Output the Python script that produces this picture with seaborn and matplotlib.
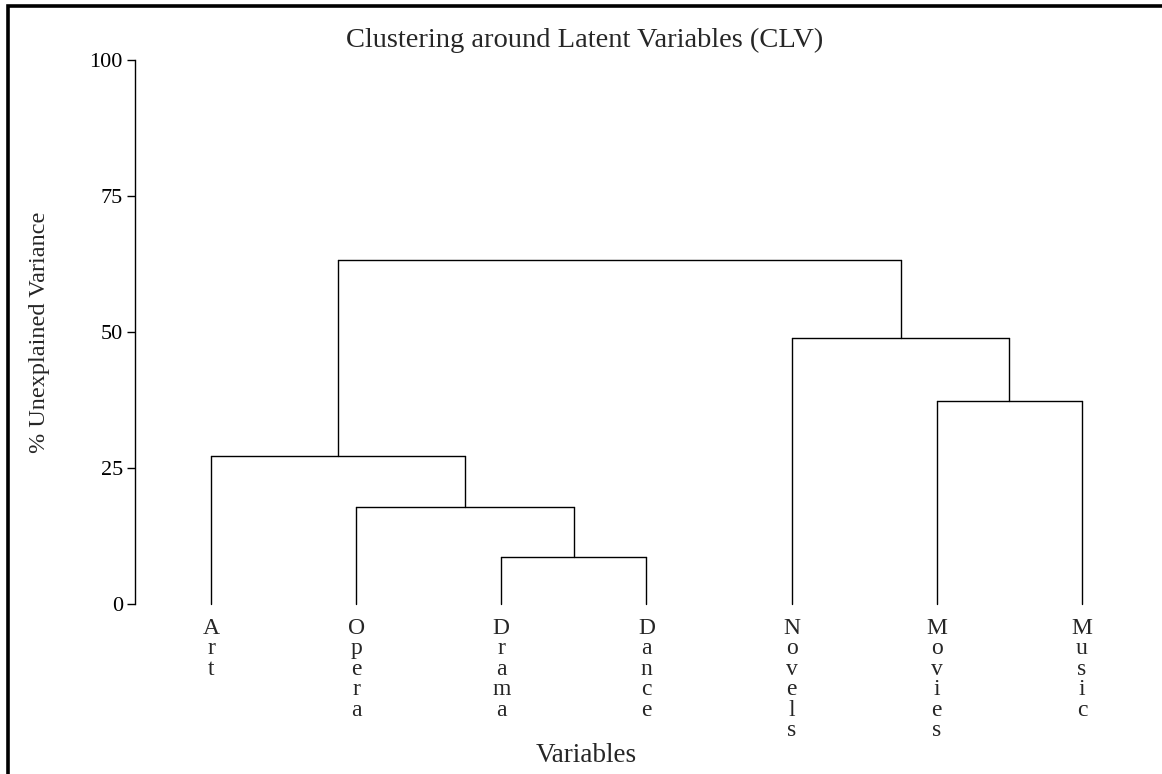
import numpy as np
import pandas as pd
import matplotlib
matplotlib.use("Agg")
import matplotlib.pyplot as plt
from matplotlib.patches import Rectangle
import seaborn as sns

# leaves in display order
LEAVES = ["Art", "Opera", "Drama", "Dance", "Novels", "Movies", "Music"]
# hclust-style merges: negative = leaf (1-based), positive = earlier merge
MERGE_LEFT = [-3, -2, -1, -6, -5, 3]
MERGE_RIGHT = [-4, 1, 2, -7, 4, 5]
MERGE_HEIGHT = [8.6, 17.8, 27.2, 37.3, 48.9, 63.2]
Y_TICKS = [0, 25, 50, 75, 100]


def build_segments():
    """Turn the merge table into dendrogram line segments."""
    pos = {}
    rows = []
    seg = 0

    def node(ref):
        if ref < 0:
            return float(-ref), 0.0
        return pos[ref]

    for i, (a, b, h) in enumerate(zip(MERGE_LEFT, MERGE_RIGHT, MERGE_HEIGHT), start=1):
        xa, ya = node(a)
        xb, yb = node(b)
        for xs, ys in [([xa, xa], [ya, h]), ([xa, xb], [h, h]), ([xb, xb], [yb, h])]:
            for x, y in zip(xs, ys):
                rows.append({"seg": seg, "x": x, "y": y})
            seg += 1
        pos[i] = ((xa + xb) / 2, h)
    return pd.DataFrame(rows)


sns.set_theme(style="white")
plt.rcParams["font.family"] = ["Liberation Serif", "DejaVu Serif"]

fig = plt.figure(figsize=(11.62, 7.74), dpi=100)
W, H = 1162, 774
ax = fig.add_axes([135 / W, (H - 604) / H, (1158 - 135) / W, (604 - 60) / H])

segs = build_segments()
sns.lineplot(data=segs, x="x", y="y", units="seg", estimator=None, sort=False,
             color="black", linewidth=1.0, ax=ax, clip_on=False)

ax.set_xlim(1 - 76 / 145.17, len(LEAVES) + 76 / 145.17)
ax.set_ylim(0, 100)
ax.set_yticks(Y_TICKS)
ax.set_yticklabels([str(t) for t in Y_TICKS], fontsize=16)
ax.set_xticks([])
ax.set_xlabel("")
ax.set_ylabel("")
for s in ["top", "right", "bottom"]:
    ax.spines[s].set_visible(False)
ax.spines["left"].set_bounds(0, 100)
ax.spines["left"].set_color("black")
ax.spines["left"].set_linewidth(1.0)
ax.tick_params(axis="y", direction="out", length=5.8, width=1.0, pad=3, colors="black", left=True)
ax.patch.set_alpha(0)

# stacked-letter leaf labels
for i, name in enumerate(LEAVES, start=1):
    ax.text(i, -2.5, "\n".join(name), ha="center", va="top", fontsize=17,
            linespacing=0.97, clip_on=False)

fig.text(585 / W, 1 - 40 / H, "Clustering around Latent Variables (CLV)",
         ha="center", va="center", fontsize=20.5)
fig.text(586 / W, 1 - 756 / H, "Variables", ha="center", va="center", fontsize=19.5)
fig.text(40 / W, 1 - 332 / H, "% Unexplained Variance", ha="center", va="center",
         rotation=90, fontsize=17.5)

# outer frame (only the top and left edges fall inside the image)
fig.add_artist(Rectangle((8 / W, -0.2), 1.2, 0.2 + (H - 6.5) / H, transform=fig.transFigure,
                         fill=False, edgecolor="black", linewidth=2.6))

fig.savefig("out.png", dpi=100)
